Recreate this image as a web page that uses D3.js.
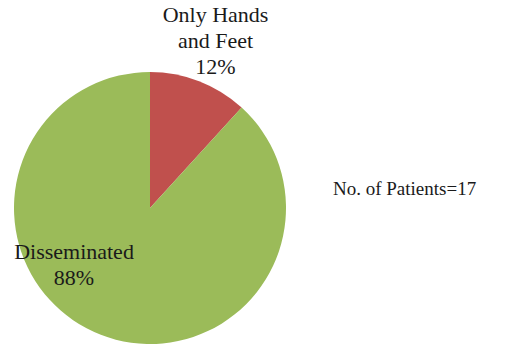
<!DOCTYPE html>
<html><head><meta charset="utf-8">
<script src="https://cdn.jsdelivr.net/npm/d3@7"></script>
<style>body{margin:0;background:#fff}</style>
</head><body>
<svg id="c" width="512" height="349"></svg>
<script>
const categories = ["Only Hands and Feet", "Disseminated"];
const labelLines = [["Only Hands", "and Feet"], ["Disseminated"]];
const patients = [2, 15];
const colors = ["#c0504d", "#9bbb59"];
const totalLabel = "No. of Patients=17";

const FONT = '"Liberation Serif", "Times New Roman", Times, serif';
const svg = d3.select("#c");
const cx = 150, cy = 208, r = 136;
const total = d3.sum(patients);
const pie = d3.pie().sort(null).value(d => d)(patients);
const arc = d3.arc().innerRadius(0).outerRadius(r);
const g = svg.append("g").attr("transform", `translate(${cx},${cy})`);
g.selectAll("path").data(pie).enter().append("path")
  .attr("d", arc).attr("fill", (d, i) => colors[i]);

const labelPos = [[65.5, -186], [-76, 51]];
const lh = 26;
pie.forEach((d, i) => {
  const lines = labelLines[i].concat([Math.round(d.value / total * 100) + "%"]);
  const t = g.append("text").attr("text-anchor", "middle").attr("font-size", 22).attr("fill", "#1a1a1a")
    .style("font-family", FONT, "important")
    .attr("x", labelPos[i][0]).attr("y", labelPos[i][1]);
  lines.forEach((l, j) => t.append("tspan").attr("x", labelPos[i][0]).attr("dy", j ? lh : 0)
    .style("font-family", FONT, "important").text(l));
});
svg.append("text").attr("x", 333).attr("y", 195).attr("font-size", 19).attr("fill", "#1a1a1a")
  .style("font-family", FONT, "important").text(totalLabel);
</script></body></html>
